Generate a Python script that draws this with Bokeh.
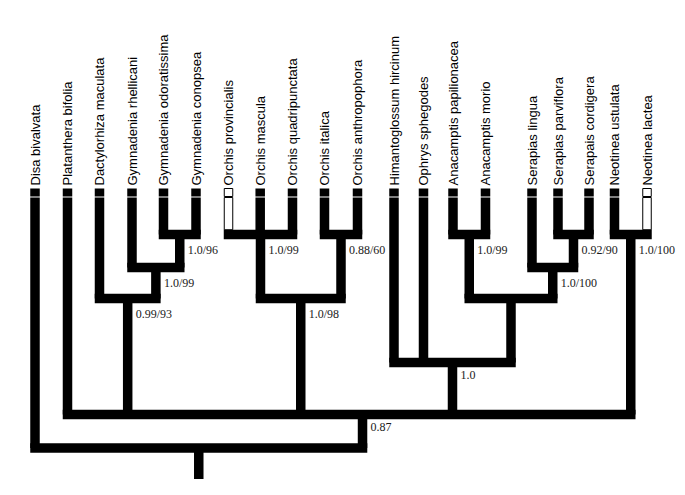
import math
from bokeh.plotting import figure
from bokeh.models import Range1d, ColumnDataSource
from bokeh.core.properties import value
from bokeh.embed import file_html
from bokeh.resources import INLINE

# ---- data ----
taxa = ["Disa bivalvata", "Platanthera bifolia", "Dactylorhiza maculata",
        "Gymnadenia rhellicani", "Gymnadenia odoratissima", "Gymnadenia conopsea",
        "Orchis provincialis", "Orchis mascula", "Orchis quadripunctata",
        "Orchis italica", "Orchis anthropophora", "Himantoglossum hircinum",
        "Ophrys sphegodes", "Anacamptis papilionacea", "Anacamptis morio",
        "Serapias lingua", "Serapias parviflora", "Serapais cordigera",
        "Neotinea ustulata", "Neotinea lactea"]
tip_x = [34.5, 67, 99, 131.5, 163, 195.5, 228, 259.7, 292, 324, 357,
         393.5, 423, 452.5, 485, 531.5, 557.5, 588.5, 614, 646.5]
tip_open = [False, False, False, False, False, False, True, False, False, False,
            False, False, False, False, False, False, False, False, False, True]

node_names = ["Gym2", "Gym3", "DactG", "OrchA", "OrchB", "Orch", "Anac",
              "SerB", "Ser", "AnSe", "Him", "Neo", "Core", "Root"]
node_children = [
    ["Gymnadenia odoratissima", "Gymnadenia conopsea"],
    ["Gymnadenia rhellicani", "Gym2"],
    ["Dactylorhiza maculata", "Gym3"],
    ["Orchis provincialis", "Orchis mascula", "Orchis quadripunctata"],
    ["Orchis italica", "Orchis anthropophora"],
    ["OrchA", "OrchB"],
    ["Anacamptis papilionacea", "Anacamptis morio"],
    ["Serapias parviflora", "Serapais cordigera"],
    ["Serapias lingua", "SerB"],
    ["Anac", "Ser"],
    ["Himantoglossum hircinum", "Ophrys sphegodes", "AnSe"],
    ["Neotinea ustulata", "Neotinea lactea"],
    ["Platanthera bifolia", "DactG", "Orch", "Him", "Neo"],
    ["Disa bivalvata", "Core"],
]
node_depth = [234, 267, 298, 234, 234, 298, 234, 234, 267, 298, 362, 234, 414, 447.5]
node_support = ["1.0/96", "1.0/99", "0.99/93", "1.0/99", "0.88/60", "1.0/98",
                "1.0/99", "0.92/90", "1.0/100", "", "1.0", "1.0/100", "0.87", ""]
node_x_offset = {"Core": 13.4}

# ---- layout ----
W = 9.5
TIP_TOP, TIP_BOT, BRANCH_TOP, ROOT_BASE = 188, 196, 197, 485

pos = {}
for t, x in zip(taxa, tip_x):
    pos[t] = (x, BRANCH_TOP)
is_tip = set(taxa)
open_tip = {t for t, o in zip(taxa, tip_open) if o}

black = dict(left=[], right=[], top=[], bottom=[])
hollow = dict(left=[], right=[], top=[], bottom=[])
sup = dict(x=[], y=[], text=[])

def add(d, l, r, t, b):
    d["left"].append(l); d["right"].append(r); d["top"].append(t); d["bottom"].append(b)

for name, ch, dep, s in zip(node_names, node_children, node_depth, node_support):
    xs = [pos[c][0] for c in ch]
    nx = (min(xs) + max(xs)) / 2 + node_x_offset.get(name, 0)
    pos[name] = (nx, dep)
    for c in ch:
        cx, cy = pos[c]
        if c in is_tip and c in open_tip:
            add(hollow, cx - W / 2 + 0.5, cx + W / 2 - 0.5, cy, dep - W / 2)
        else:
            add(black, cx - W / 2, cx + W / 2, cy, dep)
    add(black, min(xs) - W / 2, max(xs) + W / 2, dep - W / 2, dep + W / 2)
    if s:
        sup["x"].append(nx + 8); sup["y"].append(dep + W / 2 + 4); sup["text"].append(s)

rx, ry = pos["Root"]
add(black, rx - W / 2, rx + W / 2, ry, ROOT_BASE)

for t, x in zip(taxa, tip_x):
    if t in open_tip:
        add(hollow, x - W / 2 + 0.5, x + W / 2 - 0.5, TIP_TOP, TIP_BOT)
    else:
        add(black, x - W / 2, x + W / 2, TIP_TOP, TIP_BOT)

p = figure(width=677, height=479, x_range=Range1d(0, 677), y_range=Range1d(479, 0),
           output_backend="svg", toolbar_location=None, min_border=0)
p.axis.visible = False
p.grid.visible = False
p.outline_line_color = None
p.background_fill_color = "white"
p.border_fill_color = "white"

p.quad(source=ColumnDataSource(hollow), left="left", right="right", top="top", bottom="bottom",
       fill_color="white", line_color="black", line_width=1)
p.quad(source=ColumnDataSource(black), left="left", right="right", top="top", bottom="bottom",
       fill_color="black", line_color=None)

p.text(x=tip_x, y=[185] * len(taxa), text=taxa, angle=math.pi / 2,
       text_align="left", text_baseline="middle",
       text_font=value("Liberation Sans"), text_font_size=value("13px"), text_color="black")

p.text(source=ColumnDataSource(sup), x="x", y="y", text="text",
       text_align="left", text_baseline="top",
       text_font=value("Liberation Serif"), text_font_size=value("12px"), text_color="#1a1a1a")

open("out.html", "w").write(file_html(p, INLINE))
